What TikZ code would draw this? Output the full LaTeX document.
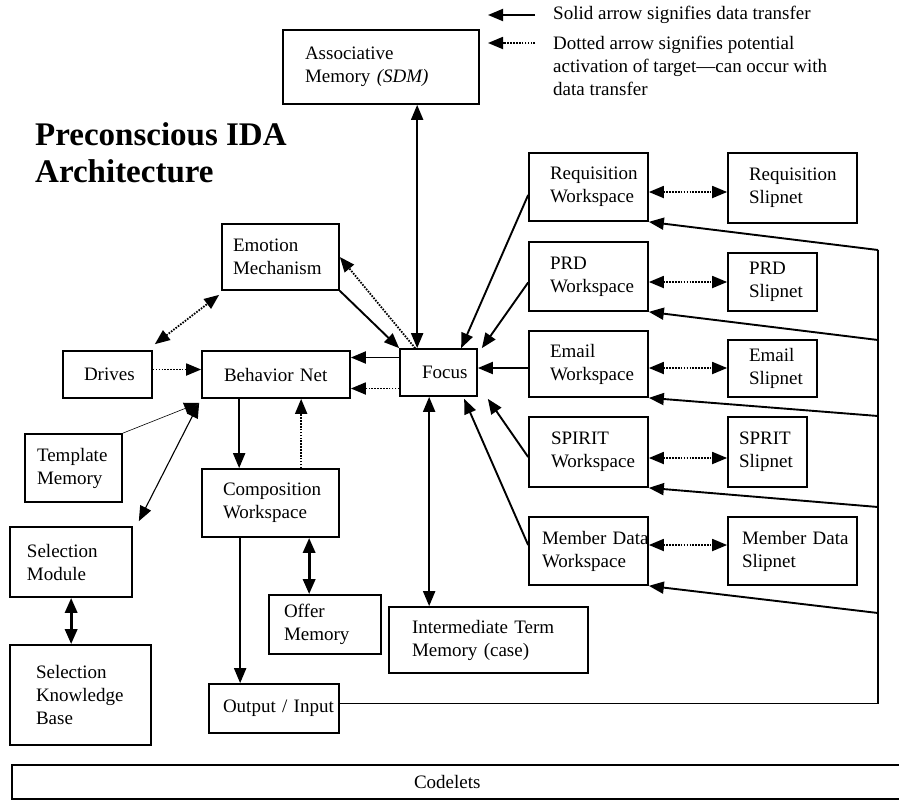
\documentclass[tikz,border=0pt]{standalone}
\usepackage{fontspec}
\setmainfont{Liberation Serif}
\usetikzlibrary{arrows.meta,calc}
\hyphenpenalty=10000
\exhyphenpenalty=10000

% block: name, x1, y1, x2, y2, left padding, text
\newcommand\blockat[7]{%
  \pgfmathsetmacro\blkw{#4-#2}\pgfmathsetmacro\blkh{#5-#3}%
  \pgfmathsetmacro\blktw{#4-#2-2*#6}%
  \pgfmathsetmacro\blkcx{(#2+#4)/2}\pgfmathsetmacro\blkcy{(#3+#5)/2}%
  \node[blk, minimum width=\blkw pt, minimum height=\blkh pt,
        text width=\blktw pt, inner xsep=#6pt] (#1) at (\blkcx,\blkcy) {#7};}

\begin{document}
\begin{tikzpicture}[x=1pt,y=-1pt,
  >={Triangle[length=15pt,width=12pt]},
  blk/.style={draw, line width=1.7pt, align=left, inner ysep=0pt,
              font=\fontsize{19}{23}\selectfont},
  con/.style={line width=1.9pt},
  dotc/.style={line width=1.8pt, dash pattern=on 1.6pt off 1.3pt},
  thk/.style={line width=3.2pt},
  fine/.style={line width=0.6pt},
  selc/.style={line width=1.1pt},
  txt/.style={inner sep=0pt, align=left, font=\fontsize{19}{23}\selectfont}]
\path[use as bounding box, fill=white] (0,0) rectangle (899,801);

% title
\node[anchor=west, inner sep=0pt, align=left,
      font=\fontsize{33}{37}\selectfont\bfseries] (title) at (35,153)
      {Preconscious IDA\\Architecture};

% legend
\coordinate (l1a) at (535,15); \coordinate (l1b) at (488,15);
\coordinate (l2a) at (535,43); \coordinate (l2b) at (488,43);
\draw[con,->] (l1a) -- (l1b);
\draw[dotc,->] (l2a) -- (l2b);
\node[txt, anchor=west] (leg1) at (553,15) {Solid arrow signifies data transfer};
\node[txt, anchor=west] (leg2) at (553,66)
  {Dotted arrow signifies potential\\activation of target---can occur with\\data transfer};

% blocks
\blockat{assoc}{283}{30}{479}{104}{22}{Associative\\Memory~\textit{(SDM)}}
\blockat{emotion}{222}{224}{339}{290}{11}{Emotion\\Mechanism}
\blockat{drives}{63}{351}{152}{398}{21}{Drives}
\blockat{bnet}{202}{351}{350}{398}{22}{Behavior~Net}
\blockat{focus}{400}{349}{477}{396}{22}{Focus}
\blockat{tmem}{25}{434}{122}{502}{12}{Template\\Memory}
\blockat{comp}{202}{469}{339}{537}{21}{Composition\\Workspace}
\blockat{selmod}{10}{527}{132}{597}{17}{Selection\\Module}
\blockat{skb}{10}{645}{151}{745}{26}{Selection\\Knowledge\\Base}
\blockat{offer}{269}{595}{381}{654}{15}{Offer\\Memory}
\blockat{itm}{389}{607}{588}{673}{23}{Intermediate~Term\\Memory~(case)}
\blockat{oi}{209}{684}{339}{733}{14}{Output~/~Input}
\blockat{reqws}{529}{153}{648}{221}{21}{Requisition\\Workspace}
\blockat{reqsl}{728}{153}{857}{223}{21}{Requisition\\Slipnet}
\blockat{prdws}{529}{242}{648}{311}{21}{PRD\\Workspace}
\blockat{prdsl}{728}{253}{817}{311}{21}{PRD\\Slipnet}
\blockat{emailws}{529}{331}{648}{397}{21}{Email\\Workspace}
\blockat{emailsl}{728}{340}{817}{397}{21}{Email\\Slipnet}
\blockat{spiritws}{529}{417}{648}{487}{22}{SPIRIT\\Workspace}
\blockat{spiritsl}{728}{417}{807}{487}{11}{SPRIT\\Slipnet}
\blockat{memws}{529}{517}{648}{585}{13}{Member~Data\\Workspace}
\blockat{memsl}{728}{517}{857}{585}{14}{Member~Data\\Slipnet}
\blockat{codelets}{12}{765}{905}{799}{402}{Codelets}

% connectors around the focus
\draw[con,<->] ($(assoc.south west)+(135,0)$) -- ($(focus.north west)+(18,0)$);
\draw[con,->] (emotion.south east) -- (focus.north west);
\draw[dotc,->] ($(focus.north west)+(16,0)$) -- (emotion.east);
\draw[con,->] ($(focus.west)+(0,-15)$) -- ($(bnet.east)+(0,-17)$);
\draw[dotc,->] ($(focus.west)+(0,16)$) -- ($(bnet.east)+(0,14)$);
\draw[con,<->] ($(focus.south west)+(30,0)$) -- ($(itm.north west)+(41,0)$);
\draw[con,->] ($(reqws.west)+(0,8)$) -- ($(focus.north west)+(62,0)$);
\draw[con,->] ($(prdws.west)+(0,6)$) -- ($(focus.north east)+(4,0)$);
\draw[con,->] ($(emailws.west)+(0,4)$) -- ($(focus.east)+(0,-4.5)$);
\draw[con,->] ($(spiritws.west)+(0,5)$) -- ($(focus.south east)+(10,2)$);
\draw[con,->] ($(memws.west)+(0,-6)$) -- ($(focus.south west)+(65,2)$);

% behavior net side
\draw[dotc,->] ($(drives.east)+(0,-5)$) -- ($(bnet.west)+(0,-5)$);
\draw[dotc,<->] ($(drives.north east)+(2,-6)$) -- ($(emotion.south west)+(-2,4)$);
\draw[fine,->] (tmem.north east) -- ($(bnet.south west)+(-2,4)$);
\draw[selc,<->] ($(selmod.north east)+(6,-5)$) -- ($(bnet.south west)+(-2,4)$);
\draw[con,->] ($(bnet.south west)+(38,0)$) -- ($(comp.north west)+(38,0)$);
\draw[dotc,->] ($(comp.north west)+(100,0)$) -- ($(bnet.south west)+(100,0)$);
\draw[con,->] ($(comp.south west)+(39,0)$) -- ($(oi.north west)+(32,0)$);
\draw[thk,<->] ($(comp.south west)+(108,0)$) -- ($(offer.north west)+(41,0)$);
\draw[thk,<->] ($(selmod.south west)+(62,0)$) -- ($(skb.north west)+(62,0)$);

% workspace <-> slipnet
\draw[dotc,<->] ($(reqws.east)+(0,5)$) -- ($(reqsl.west)+(0,4)$);
\draw[dotc,<->] ($(prdws.east)+(0,5.5)$) -- (prdsl.west);
\draw[dotc,<->] ($(emailws.east)+(0,4)$) -- ($(emailsl.west)+(0,-0.5)$);
\draw[dotc,<->] ($(spiritws.east)+(0,6)$) -- ($(spiritsl.west)+(0,6)$);
\draw[dotc,<->] ($(memws.east)+(0,-6)$) -- ($(memsl.west)+(0,-6)$);

% output/input bus feeding the workspaces
\coordinate (b1) at (878,250);
\coordinate (b2) at (878,340);
\coordinate (b3) at (878,416);
\coordinate (b4) at (878,507);
\coordinate (b5) at (878,613);
\draw[con] ($(oi.east)+(0,-5)$) -| (b1);
\draw[con,->] (b1) -- (reqws.south east);
\draw[con,->] (b2) -- (prdws.south east);
\draw[con,->] (b3) -- (emailws.south east);
\draw[con,->] (b4) -- (spiritws.south east);
\draw[con,->] (b5) -- (memws.south east);
\end{tikzpicture}
\end{document}
